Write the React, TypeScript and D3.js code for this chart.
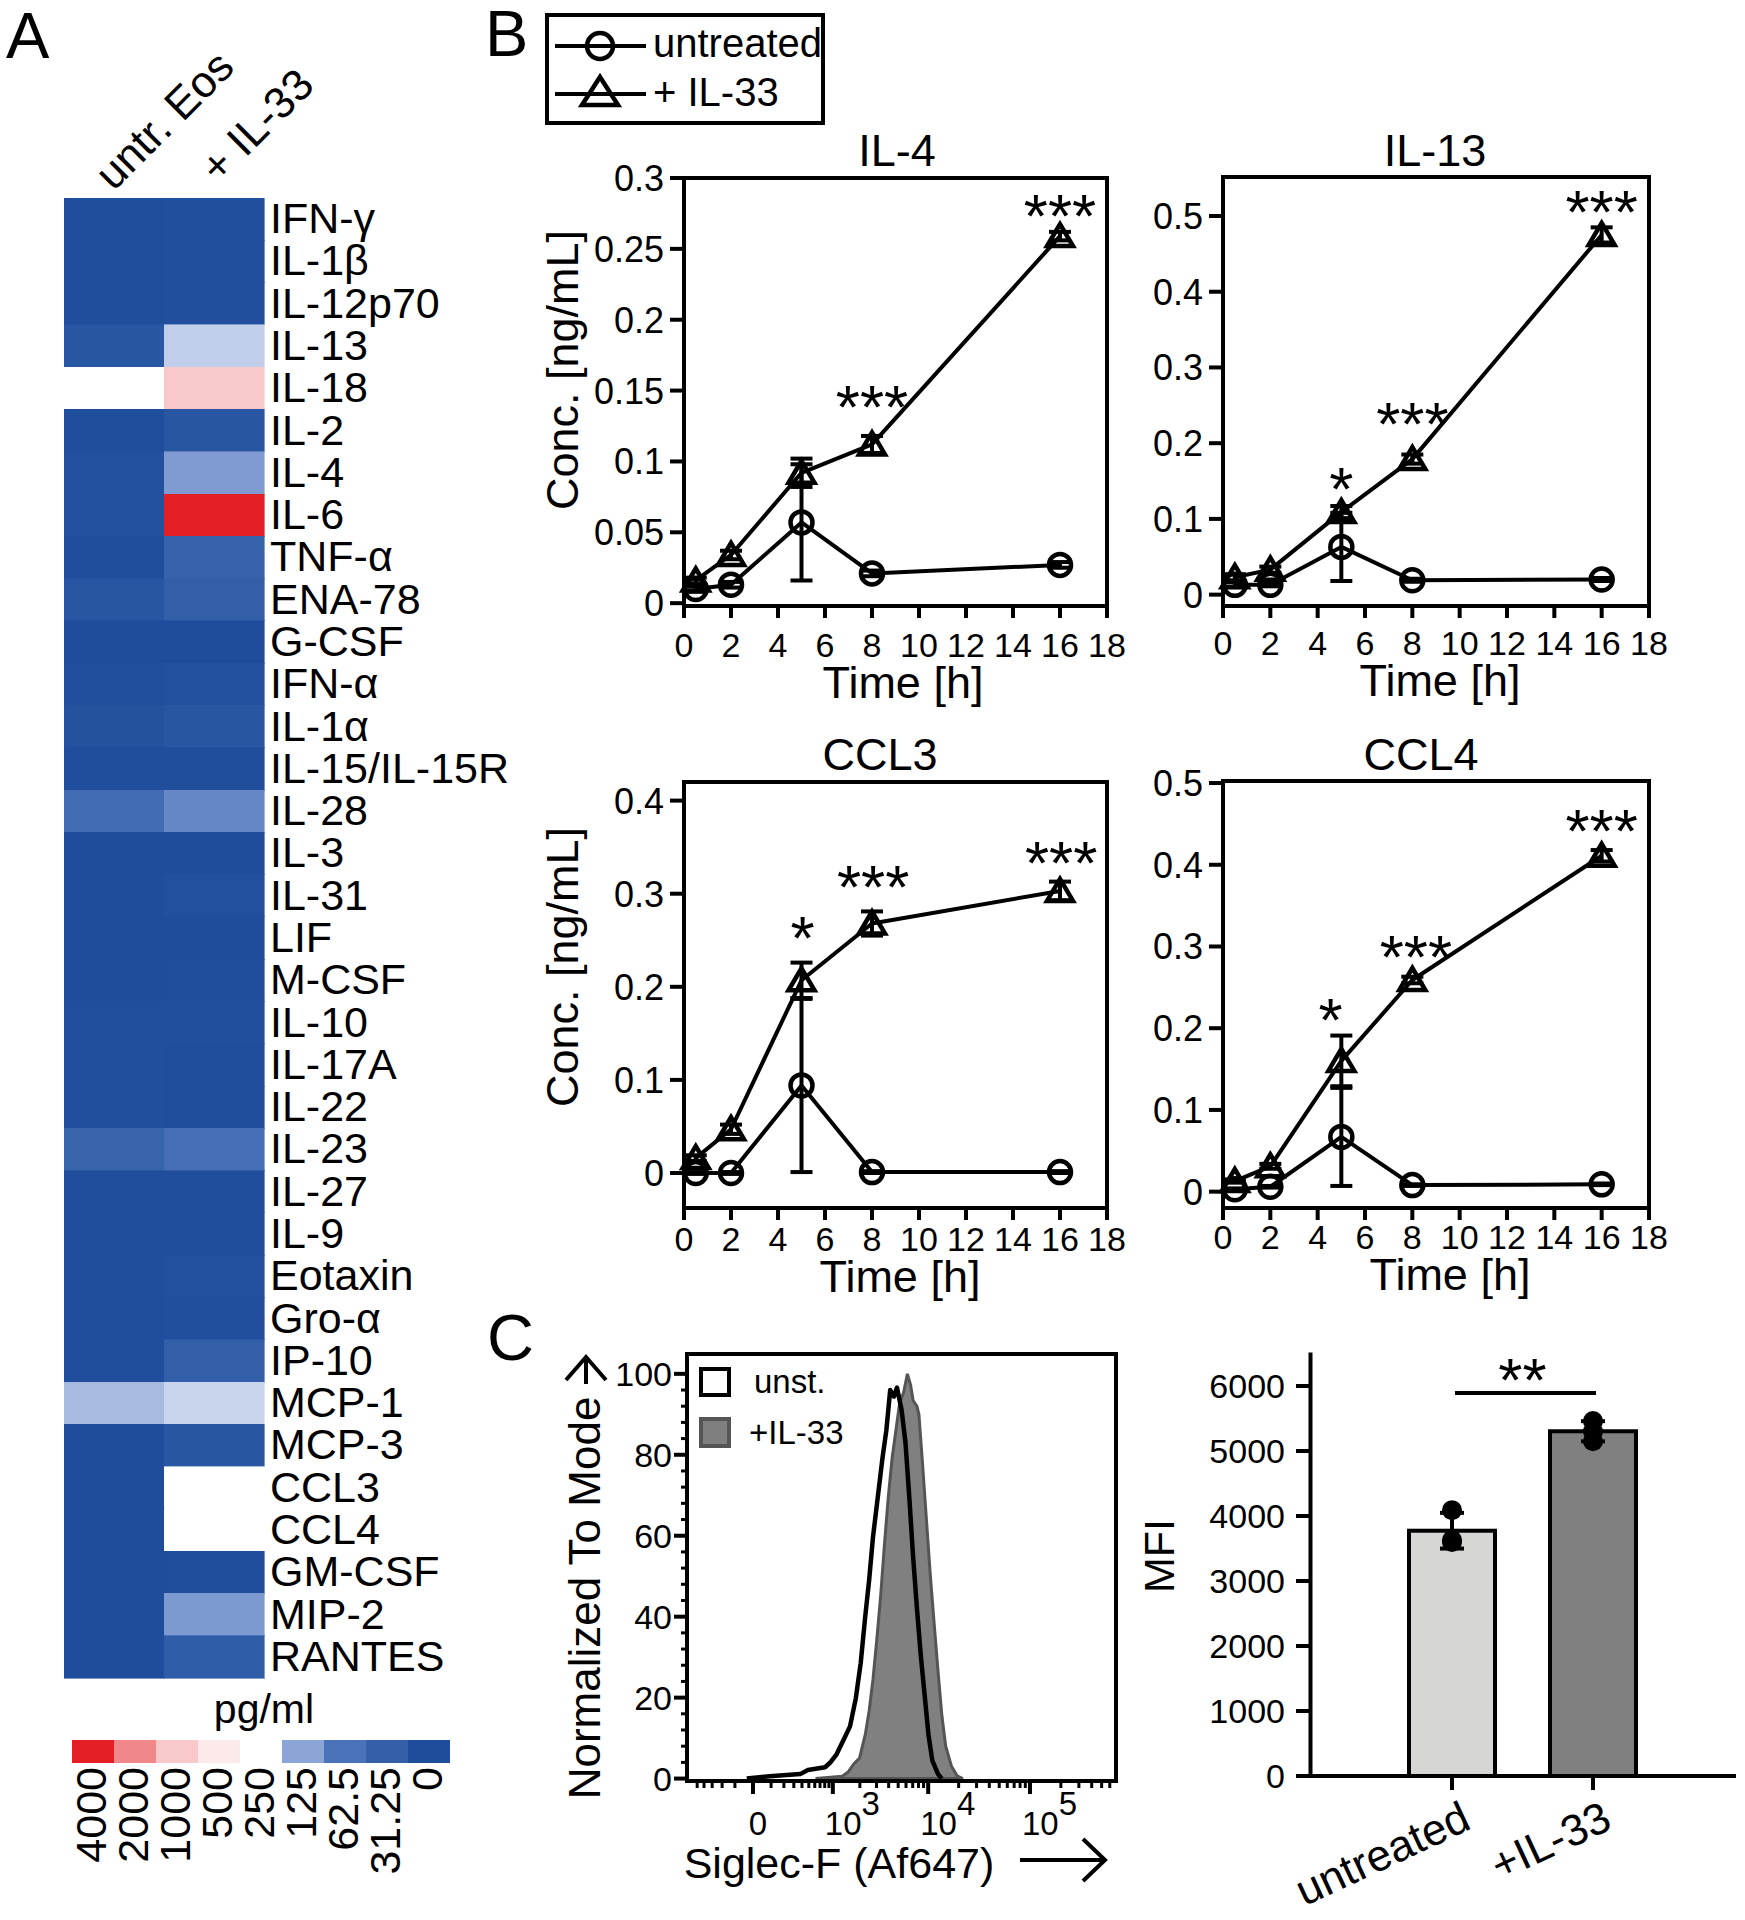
import React from 'react';
import * as d3 from 'd3';

const FONT = '"Liberation Sans", Arial, Helvetica, sans-serif';

// ---------------- Panel A data ----------------
const cytokines = [
  'IFN-γ', 'IL-1β', 'IL-12p70', 'IL-13', 'IL-18', 'IL-2', 'IL-4', 'IL-6', 'TNF-α', 'ENA-78',
  'G-CSF', 'IFN-α', 'IL-1α', 'IL-15/IL-15R', 'IL-28', 'IL-3', 'IL-31', 'LIF', 'M-CSF', 'IL-10',
  'IL-17A', 'IL-22', 'IL-23', 'IL-27', 'IL-9', 'Eotaxin', 'Gro-α', 'IP-10', 'MCP-1', 'MCP-3',
  'CCL3', 'CCL4', 'GM-CSF', 'MIP-2', 'RANTES',
];
const heatColumns = ['untr. Eos', '+ IL-33'];
const untrEosPgMl = [
  2, 2, 2, 15, 250, 3, 8, 8, 2, 15,
  0, 5, 9, 2, 52, 0, 0, 0, 0, 5,
  5, 5, 38, 2, 2, 2, 2, 2, 155, 1,
  1, 1, 1, 1, 1,
];
const il33PgMl = [
  5, 5, 5, 182, 1000, 15, 113, 4000, 36, 30,
  0, 7, 15, 2, 88, 0, 6, 0, 2, 5,
  3, 2, 58, 2, 2, 7, 5, 30, 192, 15,
  250, 250, 2, 111, 27,
];
const legendStops = [4000, 2000, 1000, 500, 250, 125, 62.5, 31.25, 0];
const legendColors = ['#e41e25', '#f08889', '#f8c8ca', '#fceaeb', '#ffffff', '#8ba5d7', '#4a72b9', '#3360a9', '#1f4c9b'];
const legendLabels = ['4000', '2000', '1000', '500', '250', '125', '62.5', '31.25', '0'];

// ---------------- Panel B data ----------------
const timeH = [0.5, 2, 5, 8, 16];
const timeTicks = [0, 2, 4, 6, 8, 10, 12, 14, 16, 18];

const il4Untreated = [0.010, 0.013, 0.057, 0.021, 0.027];
const il4UntreatedSd = [0.002, 0.002, 0.041, 0.002, 0.002];
const il4Il33 = [0.016, 0.034, 0.092, 0.112, 0.259];
const il4Il33Sd = [0.002, 0.003, 0.010, 0.006, 0.003];
const il4StarT = [8, 16];
const il4StarY = [0.149, 0.284];
const il4StarText = ['***', '***'];
const il4YTicks = [0, 0.05, 0.1, 0.15, 0.2, 0.25, 0.3];

const il13Untreated = [0.013, 0.013, 0.063, 0.019, 0.020];
const il13UntreatedSd = [0.003, 0.002, 0.045, 0.002, 0.002];
const il13Il33 = [0.023, 0.033, 0.109, 0.179, 0.475];
const il13Il33Sd = [0.004, 0.004, 0.008, 0.006, 0.010];
const il13StarT = [5, 8, 16];
const il13StarY = [0.159, 0.245, 0.525];
const il13StarText = ['*', '***', '***'];
const il13YTicks = [0, 0.1, 0.2, 0.3, 0.4, 0.5];

const ccl3Untreated = [0.0, 0.0, 0.094, 0.001, 0.001];
const ccl3UntreatedSd = [0.001, 0.001, 0.093, 0.001, 0.001];
const ccl3Il33 = [0.016, 0.047, 0.207, 0.268, 0.303];
const ccl3Il33Sd = [0.003, 0.005, 0.019, 0.013, 0.010];
const ccl3StarT = [5.05, 8.05, 16.05];
const ccl3StarY = [0.269, 0.323, 0.349];
const ccl3StarText = ['*', '***', '***'];
const ccl3YTicks = [0, 0.1, 0.2, 0.3, 0.4];

const ccl4Untreated = [0.003, 0.006, 0.067, 0.008, 0.009];
const ccl4UntreatedSd = [0.001, 0.001, 0.060, 0.001, 0.001];
const ccl4Il33 = [0.013, 0.031, 0.160, 0.259, 0.411];
const ccl4Il33Sd = [0.002, 0.003, 0.031, 0.004, 0.007];
const ccl4StarT = [4.55, 8.15, 16];
const ccl4StarY = [0.229, 0.305, 0.46];
const ccl4StarText = ['*', '***', '***'];
const ccl4YTicks = [0, 0.1, 0.2, 0.3, 0.4, 0.5];

// ---------------- Panel C data ----------------
const histUnstIntensity = [-30, 90, 377, 486, 809, 946, 1105, 1349, 1564, 1805, 2042, 2286, 2509, 2755, 3159, 3456, 3786, 4148, 4533, 4866, 5421, 5926, 6475, 7070, 7720, 8440, 9210, 10060, 10980, 12520, 13640];
const histUnstPct = [0, 0.6, 1.1, 2.1, 2.8, 4.1, 6.0, 9.9, 12.9, 19.7, 28.5, 40.2, 49, 59.7, 71.4, 79.2, 86, 96, 94.4, 96.6, 91, 83, 69.5, 54.8, 42.1, 30.4, 20.7, 10.9, 4.5, 1.1, 0];
const histIl33Intensity = [613, 1284, 1490, 1720, 1987, 2286, 2509, 2755, 3018, 3306, 3618, 3964, 4338, 4740, 5180, 5675, 6195, 6665, 7070, 7720, 8080, 8810, 9620, 10510, 11460, 12520, 13640, 14910, 16960, 19300, 22000];
const histIl33Pct = [0, 0.6, 1.6, 3.6, 5.1, 10.9, 16.7, 24.5, 34.3, 45, 57.7, 69.5, 79.2, 86, 92.9, 95.4, 100, 97.3, 93.4, 92, 90, 77.3, 63.7, 50, 38.3, 26.5, 15.8, 8, 3.1, 0.7, 0];
const histYTicks = [0, 20, 40, 60, 80, 100];
const histXMajor = [0, 1e3, 1e4, 1e5];
const histXMajorBase = ['0', '10', '10', '10'];
const histXMajorExp = ['', '3', '4', '5'];
const histXMinor = [
  -500, -400, -300, -200, -100, 100, 200, 300, 400, 500, 600, 700, 800, 900,
  2000, 3000, 4000, 5000, 6000, 7000, 8000, 9000,
  20000, 30000, 40000, 50000, 60000, 70000, 80000, 90000,
  200000, 300000, 400000, 500000, 600000,
];

const mfiCategories = ['untreated', '+IL-33'];
const mfiUntreated = [4090, 3630, 3600];
const mfiIl33 = [5460, 5300, 5150];
const mfiTicks = [0, 1000, 2000, 3000, 4000, 5000, 6000];
const mfiSigY = 5892;
const mfiSigText = '**';

// ---------------- helpers ----------------
const BK = '#000';
const SW = 4;

function mean(a: number[]) { return d3.mean(a) as number; }
function sd(a: number[]) { return d3.deviation(a) as number; }

// ---------------- Panel A ----------------
function PanelA() {
  const hx = d3.scaleBand<string>().domain(heatColumns).range([64, 264]);
  const hy = d3.scaleBand<string>().domain(cytokines).range([198, 1678]);
  const color = d3.scaleLinear<string>()
    .domain(legendStops.slice().reverse())
    .range(legendColors.slice().reverse())
    .clamp(true);
  const series = [untrEosPgMl, il33PgMl];
  const headerPos = [[-0.5, 192], [4.5, 185]];
  const lx = d3.scaleBand<string>().domain(legendLabels).range([72, 450]);
  return (
    <g>
      <text x={6} y={58} fontSize={65}>A</text>
      {heatColumns.map((c, ci) => (
        <text key={c} fontSize={44}
          transform={`translate(${(hx(c) as number) + hx.bandwidth() / 2 + headerPos[ci][0]},${headerPos[ci][1]}) rotate(-45)`}>
          {c}
        </text>
      ))}
      {cytokines.map((name, i) => (
        <g key={name}>
          {heatColumns.map((c, ci) => {
            const col = color(series[ci][i]);
            return (
              <rect key={c} x={hx(c)} y={hy(name)} width={hx.bandwidth()} height={hy.bandwidth()}
                fill={col} stroke={col} strokeWidth={0.6} shapeRendering="crispEdges" />
            );
          })}
          <text x={270} y={(hy(name) as number) + hy.bandwidth() / 2 + 14} fontSize={43}>{name}</text>
        </g>
      ))}
      <text x={264} y={1723} fontSize={41} textAnchor="middle">pg/ml</text>
      {legendLabels.map((l, i) => (
        <g key={l}>
          <rect x={lx(l)} y={1740} width={lx.bandwidth()} height={23} fill={color(legendStops[i])} />
          <text fontSize={43} textAnchor="end"
            transform={`translate(${(lx(l) as number) + lx.bandwidth() / 2 + 13},1767) rotate(-90)`}>{l}</text>
        </g>
      ))}
    </g>
  );
}

// ---------------- Panel B ----------------
const TRI = 'M0,-12 L13,10 L-13,10 Z';
const TRI_L = 'M0,-15 L18,13 L-18,13 Z';

type PlotSpec = {
  title: string;
  untreated: number[]; untreatedSd: number[];
  il33: number[]; il33Sd: number[];
  starT: number[]; starY: number[]; starText: string[];
  yTicks: number[]; yDomain: [number, number];
  frame: { x0: number; x1: number; y0: number; y1: number };
  titlePos: [number, number]; xlabPos: [number, number]; tickBase: number;
  ylabPos?: [number, number];
};

function LinePlot({ s }: { s: PlotSpec }) {
  const f = s.frame;
  const x = d3.scaleLinear().domain([0, 18]).range([f.x0, f.x1]);
  const y = d3.scaleLinear().domain(s.yDomain).range([f.y1, f.y0]);
  const line = d3.line<number>().x((_, i) => x(timeH[i])).y((d) => y(d));
  const errs = (vals: number[], sds: number[], key: string) =>
    vals.map((v, i) => {
      const cx = x(timeH[i]);
      const lo = y(v - sds[i]);
      const hi = y(v + sds[i]);
      return (
        <g key={key + i} stroke={BK} strokeWidth={SW}>
          <line x1={cx} x2={cx} y1={lo} y2={hi} />
          <line x1={cx - 11} x2={cx + 11} y1={lo} y2={lo} />
          <line x1={cx - 11} x2={cx + 11} y1={hi} y2={hi} />
        </g>
      );
    });
  return (
    <g>
      <text x={s.titlePos[0]} y={s.titlePos[1]} fontSize={45} textAnchor="middle">{s.title}</text>
      {timeTicks.map((t) => (
        <g key={'xt' + t}>
          <line x1={x(t)} x2={x(t)} y1={f.y1} y2={f.y1 + 12} stroke={BK} strokeWidth={SW} />
          <text x={x(t)} y={s.tickBase} fontSize={34} textAnchor="middle">{t}</text>
        </g>
      ))}
      {s.yTicks.map((t) => (
        <g key={'yt' + t}>
          <line x1={f.x0 - 14} x2={f.x0} y1={y(t)} y2={y(t)} stroke={BK} strokeWidth={SW} />
          <text x={f.x0 - 20} y={y(t) + 13} fontSize={36} textAnchor="end">{String(t)}</text>
        </g>
      ))}
      <rect x={f.x0} y={f.y0} width={f.x1 - f.x0} height={f.y1 - f.y0} fill="none" stroke={BK} strokeWidth={SW} />
      <path d={line(s.untreated) as string} fill="none" stroke={BK} strokeWidth={SW} strokeLinejoin="round" />
      <path d={line(s.il33) as string} fill="none" stroke={BK} strokeWidth={SW} strokeLinejoin="round" />
      {s.untreated.map((v, i) => (
        <circle key={'c' + i} cx={x(timeH[i])} cy={y(v)} r={11} fill="none" stroke={BK} strokeWidth={SW + 0.5} />
      ))}
      {s.il33.map((v, i) => (
        <path key={'t' + i} d={TRI} transform={`translate(${x(timeH[i])},${y(v)})`} fill="none" stroke={BK} strokeWidth={SW + 0.5} strokeLinejoin="miter" />
      ))}
      {errs(s.untreated, s.untreatedSd, 'eu')}
      {errs(s.il33, s.il33Sd, 'ei')}
      {s.starT.map((t, i) => (
        <text key={'s' + i} x={x(t)} y={y(s.starY[i]) + 36} fontSize={62} textAnchor="middle">{s.starText[i]}</text>
      ))}
      <text x={s.xlabPos[0]} y={s.xlabPos[1]} fontSize={45} textAnchor="middle">Time [h]</text>
      {s.ylabPos && (
        <text fontSize={45} textAnchor="middle" transform={`translate(${s.ylabPos[0]},${s.ylabPos[1]}) rotate(-90)`}>Conc. [ng/mL]</text>
      )}
    </g>
  );
}

function PanelB() {
  const specs: PlotSpec[] = [
    {
      title: 'IL-4', untreated: il4Untreated, untreatedSd: il4UntreatedSd, il33: il4Il33, il33Sd: il4Il33Sd,
      starT: il4StarT, starY: il4StarY, starText: il4StarText, yTicks: il4YTicks, yDomain: [-0.002, 0.3],
      frame: { x0: 684, x1: 1107, y0: 178, y1: 606 }, titlePos: [897, 166], xlabPos: [903, 698], tickBase: 657,
      ylabPos: [578, 370],
    },
    {
      title: 'IL-13', untreated: il13Untreated, untreatedSd: il13UntreatedSd, il33: il13Il33, il33Sd: il13Il33Sd,
      starT: il13StarT, starY: il13StarY, starText: il13StarText, yTicks: il13YTicks, yDomain: [-0.015, 0.5515],
      frame: { x0: 1223, x1: 1649, y0: 177, y1: 606 }, titlePos: [1435, 166], xlabPos: [1440, 696], tickBase: 655,
    },
    {
      title: 'CCL3', untreated: ccl3Untreated, untreatedSd: ccl3UntreatedSd, il33: ccl3Il33, il33Sd: ccl3Il33Sd,
      starT: ccl3StarT, starY: ccl3StarY, starText: ccl3StarText, yTicks: ccl3YTicks, yDomain: [-0.0376, 0.42],
      frame: { x0: 684, x1: 1107, y0: 782, y1: 1208 }, titlePos: [880, 770], xlabPos: [900, 1292], tickBase: 1251,
      ylabPos: [578, 967],
    },
    {
      title: 'CCL4', untreated: ccl4Untreated, untreatedSd: ccl4UntreatedSd, il33: ccl4Il33, il33Sd: ccl4Il33Sd,
      starT: ccl4StarT, starY: ccl4StarY, starText: ccl4StarText, yTicks: ccl4YTicks, yDomain: [-0.02, 0.5025],
      frame: { x0: 1223, x1: 1649, y0: 781, y1: 1208 }, titlePos: [1421, 770], xlabPos: [1450, 1290], tickBase: 1249,
    },
  ];
  return (
    <g>
      <text x={485} y={56} fontSize={65}>B</text>
      <rect x={547} y={15} width={276} height={108} fill="none" stroke={BK} strokeWidth={SW} />
      <line x1={555} x2={646} y1={46} y2={46} stroke={BK} strokeWidth={SW} />
      <circle cx={600} cy={46} r={13} fill="none" stroke={BK} strokeWidth={SW + 0.5} />
      <text x={653} y={57} fontSize={40}>untreated</text>
      <line x1={555} x2={646} y1={94} y2={94} stroke={BK} strokeWidth={SW} />
      <path d={TRI_L} transform="translate(600,92)" fill="none" stroke={BK} strokeWidth={SW + 0.5} />
      <text x={653} y={106} fontSize={40}>+ IL-33</text>
      {specs.map((s) => <LinePlot key={s.title} s={s} />)}
    </g>
  );
}

// ---------------- Panel C: histogram ----------------
function Histogram() {
  const fr = { x0: 687, x1: 1116, y0: 1354, y1: 1781 };
  const x = d3.scaleSymlog().constant(200).domain([0, 1e5]).range([753, 1030]);
  const y = d3.scaleLinear().domain([-0.6, 104.9]).range([fr.y1, fr.y0]);
  const il33Pts = histIl33Intensity.map((v, i) => [v, histIl33Pct[i]] as [number, number]);
  const unstPts = histUnstIntensity.map((v, i) => [v, histUnstPct[i]] as [number, number]);
  const area = d3.area<[number, number]>().x((d) => x(d[0])).y0(y(0)).y1((d) => y(d[1]));
  const line = d3.line<[number, number]>().x((d) => x(d[0])).y((d) => y(d[1]));
  const yMinor = d3.range(0, 104, 4).filter((v) => v % 20 !== 0);
  return (
    <g>
      <text x={487} y={1360} fontSize={65}>C</text>
      <path d={area(il33Pts) as string} fill="#808080" stroke="#555" strokeWidth={3} />
      <path d={line(unstPts) as string} fill="none" stroke={BK} strokeWidth={4.5} strokeLinejoin="round" />
      <rect x={fr.x0} y={fr.y0} width={fr.x1 - fr.x0} height={fr.y1 - fr.y0} fill="none" stroke={BK} strokeWidth={SW} />
      {histYTicks.map((t) => (
        <g key={'hy' + t}>
          <line x1={fr.x0 - 13} x2={fr.x0} y1={y(t)} y2={y(t)} stroke={BK} strokeWidth={SW} />
          <text x={672} y={y(t) + 12} fontSize={34} textAnchor="end">{t}</text>
        </g>
      ))}
      {yMinor.map((t) => (
        <line key={'hym' + t} x1={fr.x0 - 6} x2={fr.x0} y1={y(t)} y2={y(t)} stroke={BK} strokeWidth={3} />
      ))}
      {histXMinor.map((t) => (
        <line key={'hxm' + t} x1={x(t)} x2={x(t)} y1={fr.y1} y2={fr.y1 + 7} stroke={BK} strokeWidth={3} />
      ))}
      {histXMajor.map((t, i) => (
        <g key={'hx' + t}>
          <line x1={x(t)} x2={x(t)} y1={fr.y1} y2={fr.y1 + 13} stroke={BK} strokeWidth={SW} />
          {i === 0 ? (
            <text x={x(t) + 5} y={1835} fontSize={33} textAnchor="middle">{histXMajorBase[i]}</text>
          ) : (
            <text x={x(t) - 8} y={1835} fontSize={33}>
              {histXMajorBase[i]}<tspan dy={-20}>{histXMajorExp[i]}</tspan>
            </text>
          )}
        </g>
      ))}
      <text x={839} y={1878} fontSize={43} textAnchor="middle">Siglec-F (Af647)</text>
      <line x1={1020} x2={1104} y1={1860} y2={1860} stroke={BK} strokeWidth={SW} />
      <path d="M1083,1839 L1105,1860 L1083,1881" fill="none" stroke={BK} strokeWidth={SW} />
      <text fontSize={44} textAnchor="middle" transform="translate(600,1598) rotate(-90)">Normalized To Mode</text>
      <path d="M566,1380 L586,1357 L606,1380" fill="none" stroke={BK} strokeWidth={SW} />
      <line x1={586} x2={586} y1={1358} y2={1384} stroke={BK} strokeWidth={SW} />
      <rect x={701} y={1369} width={28} height={26} fill="#fff" stroke={BK} strokeWidth={SW} />
      <text x={754} y={1393} fontSize={33}>unst.</text>
      <rect x={701} y={1419} width={28} height={27} fill="#7f7f7f" stroke="#555" strokeWidth={SW} />
      <text x={749} y={1444} fontSize={33}>+IL-33</text>
    </g>
  );
}

// ---------------- Panel C: MFI bars ----------------
function MfiBars() {
  const bx = d3.scalePoint<string>().domain(mfiCategories).range([1452, 1593]);
  const by = d3.scaleLinear().domain([0, 6515]).range([1776, 1352.5]);
  const groups = [mfiUntreated, mfiIl33];
  const fills = ['#d6d6d4', '#7f807f'];
  const bw = 86;
  return (
    <g>
      <line x1={1310.5} x2={1310.5} y1={by(6515)} y2={by(0) + 2} stroke={BK} strokeWidth={SW} />
      {mfiTicks.map((t) => (
        <g key={'m' + t}>
          <line x1={1296} x2={1310} y1={by(t)} y2={by(t)} stroke={BK} strokeWidth={SW} />
          <text x={1285} y={by(t) + 12} fontSize={34} textAnchor="end">{t}</text>
        </g>
      ))}
      {mfiCategories.map((c, i) => {
        const cx = bx(c) as number;
        const m = mean(groups[i]);
        const s = sd(groups[i]);
        return (
          <g key={c}>
            <rect x={cx - bw / 2} y={by(m)} width={bw} height={by(0) - by(m)} fill={fills[i]} stroke={BK} strokeWidth={SW} />
            <line x1={cx} x2={cx} y1={by(m - s)} y2={by(m + s)} stroke={BK} strokeWidth={SW} />
            <line x1={cx - 12} x2={cx + 12} y1={by(m - s)} y2={by(m - s)} stroke={BK} strokeWidth={SW} />
            <line x1={cx - 12} x2={cx + 12} y1={by(m + s)} y2={by(m + s)} stroke={BK} strokeWidth={SW} />
            {groups[i].map((v, j) => <circle key={j} cx={cx} cy={by(v)} r={10} fill={BK} />)}
            <line x1={cx} x2={cx} y1={by(0)} y2={by(0) + 14} stroke={BK} strokeWidth={SW} />
            <text fontSize={44} textAnchor="end" transform={`translate(${cx + 21},1828) rotate(-25)`}>{c}</text>
          </g>
        );
      })}
      <line x1={1297} x2={1736} y1={by(0)} y2={by(0)} stroke={BK} strokeWidth={SW} />
      <line x1={(bx(mfiCategories[0]) as number) + 3} x2={(bx(mfiCategories[1]) as number) + 3} y1={by(mfiSigY)} y2={by(mfiSigY)} stroke={BK} strokeWidth={SW} />
      <text x={((bx(mfiCategories[0]) as number) + (bx(mfiCategories[1]) as number)) / 2} y={1401} fontSize={62} textAnchor="middle">{mfiSigText}</text>
      <text fontSize={43} textAnchor="middle" transform="translate(1174,1556) rotate(-90)">MFI</text>
    </g>
  );
}

export default function App() {
  return (
    <svg width={1745} height={1920} viewBox="0 0 1745 1920" fontFamily={FONT}
      style={{ position: 'absolute', left: 0, top: 0, background: '#fff' }}>
      <rect width={1745} height={1920} fill="#fff" />
      <PanelA />
      <PanelB />
      <Histogram />
      <MfiBars />
    </svg>
  );
}
